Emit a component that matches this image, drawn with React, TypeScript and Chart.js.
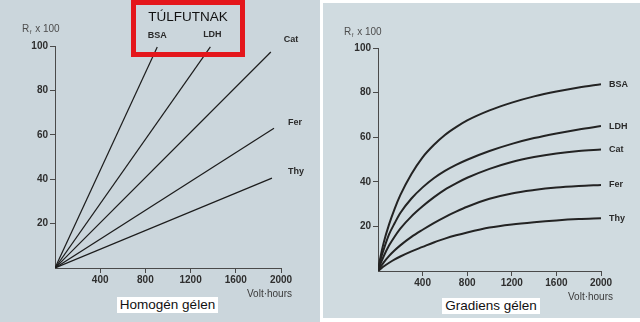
import React, { useEffect, useRef } from 'react';
import { Chart, registerables } from 'chart.js';

Chart.register(...registerables);

// ---- data ----
const proteins = ['BSA', 'LDH', 'Cat', 'Fer', 'Thy'];

// Homogeneous gel: straight lines from the origin to these end points
const homogenEndVoltHours = [905, 1375, 1910, 1938, 1920];
const homogenEndRf = [99.5, 99.6, 97.3, 63, 40.5];

// Gradient gel: curves
const gradientVoltHours = [0, 25, 50, 100, 150, 200, 300, 400, 500, 600, 700, 800, 1000, 1200, 1400, 1600, 1800, 2000];
const gradBSA = [0, 7, 12.5, 21, 28, 34, 43.5, 51, 56.5, 61, 64.5, 67.5, 72, 75.5, 78.3, 80.5, 82.3, 83.7];
const gradLDH = [0, 5.5, 9.5, 16.5, 21.5, 26, 32.5, 37.5, 41.6, 44.9, 47.6, 49.9, 53.8, 57, 59.6, 61.7, 63.5, 65];
const gradCat = [0, 3.5, 6.5, 11.5, 15.5, 19, 24.5, 29, 33, 36.5, 39.3, 41.8, 45.8, 48.9, 51.1, 52.7, 53.8, 54.5];
const gradFer = [0, 2, 3.8, 6.8, 9.3, 11.5, 15.3, 18.5, 21.5, 24.2, 26.6, 28.8, 32.4, 34.8, 36.3, 37.4, 38.1, 38.6];
const gradThy = [0, 1, 2, 3.7, 5.2, 6.5, 8.8, 10.8, 12.8, 14.5, 16, 17.3, 19.5, 20.9, 21.9, 22.7, 23.3, 23.7];
const gradientSeries = [gradBSA, gradLDH, gradCat, gradFer, gradThy];

const xAxisMin = 0;
const xAxisMax = 2000;
const xAxisStep = 400;
const yAxisMin = 0;
const yAxisMax = 100;
const yAxisStep = 20;

const FONT = '"Liberation Sans", Arial, Helvetica, sans-serif';

type LabelOffset = { dx: number; dy: number; align: CanvasTextAlign };

const annotatePlugin = {
  id: 'annotate',
  afterDatasetsDraw(chart: any, _args: any, opts: any) {
    const ctx = chart.ctx as CanvasRenderingContext2D;
    const ca = chart.chartArea;
    ctx.save();
    ctx.textBaseline = 'middle';
    // y title: R_f x 100
    ctx.fillStyle = '#4d4d4d';
    ctx.font = `10px ${FONT}`;
    ctx.textAlign = 'left';
    const tx = ca.left + opts.yTitleDx;
    const ty = ca.top + opts.yTitleDy;
    ctx.fillText('R', tx, ty);
    const rw = ctx.measureText('R').width;
    ctx.font = `6px ${FONT}`;
    ctx.fillText('f', tx + rw + 0.5, ty + 3);
    ctx.font = `10px ${FONT}`;
    ctx.fillText('x 100', tx + rw + 6, ty);
    // x title
    ctx.fillStyle = '#3a3a3a';
    ctx.textAlign = 'right';
    ctx.fillText('Volt\u00b7hours', ca.right + opts.xTitleDx, ca.bottom + opts.xTitleDy);
    // series labels
    ctx.fillStyle = '#2a2a2a';
    ctx.font = opts.labelFont;
    chart.data.datasets.forEach((ds: any, i: number) => {
      const meta = chart.getDatasetMeta(i);
      const pt = meta.data[meta.data.length - 1];
      const off: LabelOffset = opts.labelOffsets[i];
      ctx.textAlign = off.align;
      ctx.fillText(ds.label, pt.x + off.dx, pt.y + off.dy);
    });
    ctx.restore();
  },
};

function makeScales(xHeight: number, yWidth: number) {
  const tickColor = (c: any) => (c.tick && c.tick.value === 0 ? 'rgba(0,0,0,0)' : '#4a4a4a');
  const hideZero = (v: any) => (Number(v) === 0 ? '' : String(v));
  return {
    x: {
      type: 'linear',
      min: xAxisMin,
      max: xAxisMax,
      ticks: {
        stepSize: xAxisStep,
        callback: hideZero,
        color: '#2e2e2e',
        font: { family: FONT, size: 10, weight: 'bold' },
        padding: 1,
        maxRotation: 0,
      },
      grid: { drawOnChartArea: false, drawTicks: true, tickLength: 5, tickColor, lineWidth: 1 },
      border: { display: true, color: '#4a4a4a', width: 1 },
      afterFit: (s: any) => {
        s.height = xHeight;
      },
    },
    y: {
      type: 'linear',
      min: yAxisMin,
      max: yAxisMax,
      ticks: {
        stepSize: yAxisStep,
        callback: hideZero,
        color: '#2e2e2e',
        font: { family: FONT, size: 10, weight: 'bold' },
        padding: 2,
      },
      grid: { drawOnChartArea: false, drawTicks: true, tickLength: 5, tickColor, lineWidth: 1 },
      border: { display: true, color: '#4a4a4a', width: 1 },
      afterFit: (s: any) => {
        s.width = yWidth;
      },
    },
  };
}

function ChartCanvas({ config, width, height }: { config: () => any; width: number; height: number }) {
  const ref = useRef<HTMLCanvasElement | null>(null);
  useEffect(() => {
    if (!ref.current) return;
    const chart = new Chart(ref.current, config());
    return () => chart.destroy();
  }, []);
  return <canvas ref={ref} width={width} height={height} style={{ display: 'block', width, height }} />;
}

const homogenConfig = () => ({
  type: 'line',
  data: {
    datasets: proteins.map((p, i) => ({
      label: p,
      data: [
        { x: 0, y: 0 },
        { x: homogenEndVoltHours[i], y: homogenEndRf[i] },
      ],
      borderColor: '#1c1c1c',
      borderWidth: 1.2,
      pointRadius: 0,
      fill: false,
    })),
  },
  options: {
    responsive: false,
    animation: false,
    events: [],
    layout: { padding: { top: 46, right: 39, left: 0, bottom: 0 } },
    plugins: {
      legend: { display: false },
      tooltip: { enabled: false },
      annotate: {
        yTitleDx: -33,
        yTitleDy: -17,
        xTitleDx: 11,
        xTitleDy: 26,
        labelFont: `bold 9px ${FONT}`,
        labelOffsets: [
          { dx: 0, dy: -12, align: 'center' },
          { dx: 2, dy: -12, align: 'center' },
          { dx: 13, dy: -12, align: 'left' },
          { dx: 14, dy: -6, align: 'left' },
          { dx: 16, dy: -7, align: 'left' },
        ],
      },
    },
    scales: makeScales(54, 55),
  },
  plugins: [annotatePlugin],
});

const gradientConfig = () => ({
  type: 'line',
  data: {
    datasets: proteins.map((p, i) => ({
      label: p,
      data: gradientVoltHours.map((v, j) => ({ x: v, y: gradientSeries[i][j] })),
      borderColor: '#232323',
      borderWidth: 2,
      pointRadius: 0,
      fill: false,
      cubicInterpolationMode: 'monotone',
    })),
  },
  options: {
    responsive: false,
    animation: false,
    events: [],
    layout: { padding: { top: 45, right: 39, left: 0, bottom: 0 } },
    plugins: {
      legend: { display: false },
      tooltip: { enabled: false },
      annotate: {
        yTitleDx: -34,
        yTitleDy: -16,
        xTitleDx: 12,
        xTitleDy: 26,
        labelFont: `bold 9px ${FONT}`,
        labelOffsets: proteins.map(() => ({ dx: 8, dy: 0, align: 'left' })),
      },
    },
    scales: makeScales(47, 55),
  },
  plugins: [annotatePlugin],
});

export default function App() {
  return (
    <div
      style={{
        position: 'absolute',
        left: 0,
        top: 0,
        width: 640,
        height: 322,
        background: '#ffffff',
        overflow: 'hidden',
        fontFamily: FONT,
      }}
    >
      <div style={{ position: 'absolute', left: 0, top: 0, width: 320, height: 322, background: '#cbd6dc' }}>
        <ChartCanvas config={homogenConfig} width={320} height={322} />
      </div>
      <div style={{ position: 'absolute', left: 323, top: 3, width: 317, height: 315, background: '#d0dbe0' }}>
        <ChartCanvas config={gradientConfig} width={317} height={315} />
      </div>
      <div
        style={{
          position: 'absolute',
          left: 131,
          top: 0,
          width: 114,
          height: 57,
          border: '5px solid #e4161b',
          boxSizing: 'border-box',
        }}
      />
      <div
        style={{
          position: 'absolute',
          left: 131,
          top: 9,
          width: 114,
          textAlign: 'center',
          fontSize: 13.5,
          lineHeight: '16px',
          color: '#111',
        }}
      >
        TÚLFUTNAK
      </div>
      <div
        style={{
          position: 'absolute',
          left: 117,
          top: 297,
          width: 101,
          height: 16,
          background: '#ffffff',
          textAlign: 'center',
          fontSize: 13.5,
          lineHeight: '16px',
          color: '#111',
        }}
      >
        Homogén gélen
      </div>
      <div
        style={{
          position: 'absolute',
          left: 442,
          top: 298,
          width: 98,
          height: 16,
          background: '#ffffff',
          textAlign: 'center',
          fontSize: 13.5,
          lineHeight: '16px',
          color: '#111',
        }}
      >
        Gradiens gélen
      </div>
    </div>
  );
}
